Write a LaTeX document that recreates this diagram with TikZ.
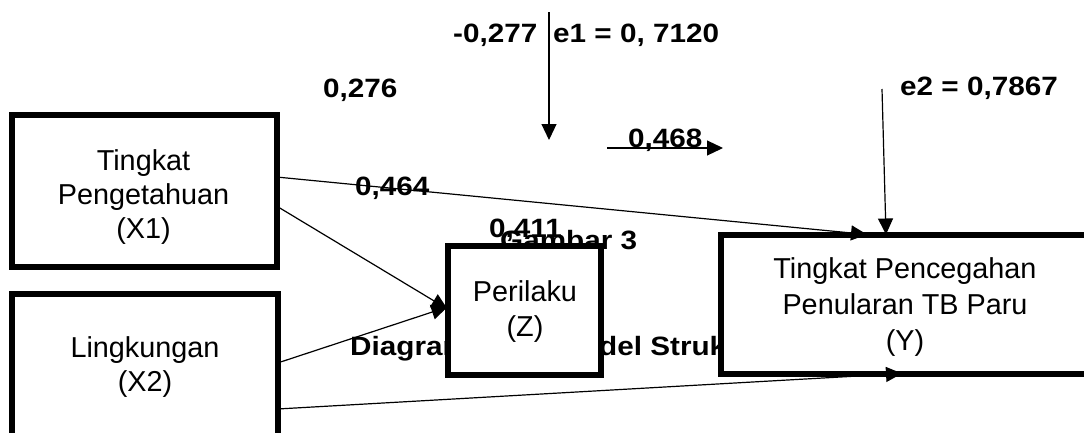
\documentclass[tikz,border=0pt]{standalone}
\usepackage{fontspec}
\setmainfont{Liberation Sans}
\newfontfamily\labfont[FakeStretch=1.12]{Liberation Sans}
\usetikzlibrary{arrows.meta}
\tikzset{
  box/.style={draw, line width=6pt, fill=white, inner sep=0pt, outer sep=0pt},
  boxtext/.style={align=center, inner sep=0pt, font=\fontsize{28.8}{34}\selectfont},
  lab/.style={inner sep=0pt, anchor=base west, font=\labfont\bfseries\fontsize{26.5}{30}\selectfont},
  conn/.style={line width=1.2pt, -{Triangle[length=16pt,width=15pt]}},
}
\begin{document}
\begin{tikzpicture}[x=1pt,y=-1pt]
\useasboundingbox (0,0) rectangle (1084,432);
% texts partly hidden behind boxes
\node[lab] (gambar) at (500,249) {Gambar 3};
\node[lab] (diag) at (350,355) {Diagram Jalur Model Struktural};
% boxes
\node[box, minimum width=265pt, minimum height=152pt] (x1) at (144,190.5) {};
\node[box, minimum width=266pt, minimum height=176pt] (x2) at (144.5,382) {};
\node[box, minimum width=153pt, minimum height=129pt] (z) at (524,310) {};
\node[box, minimum width=399pt, minimum height=139pt] (y) at (920.5,304) {};
\node[boxtext] (x1t) at (143.5,197) {Tingkat\\Pengetahuan\\(X1)};
\node[boxtext] (x2t) at (145,367.5) {Lingkungan\\(X2)};
\node[boxtext, font=\fontsize{28.8}{35}\selectfont] (zt) at (525,311.5) {Perilaku\\(Z)};
\node[boxtext, font=\fontsize{28.8}{36}\selectfont] (yt) at (905,307) {Tingkat Pencegahan\\Penularan TB Paru\\(Y)};
% free ends
\coordinate (e1s) at (549,12);
\coordinate (e1e) at (549,140);
\coordinate (e2s) at (882,89);
\coordinate (r1s) at (607,148);
\coordinate (r1e) at (723,148);
% connectors
\draw[conn] ([yshift=13.5pt]x1.east) -- ([xshift=146pt]y.north west);
\draw[conn] ([yshift=-15.5pt]x1.east) -- ([yshift=1pt]z.west);
\draw[conn] ([yshift=19pt]x2.east) -- ([yshift=3pt]z.west);
\draw[conn] ([yshift=-27pt]x2.east) -- ([xshift=181pt]y.south west);
\draw[conn] (e1s) -- (e1e);
\draw[conn] (e2s) -- ([xshift=165pt]y.north west);
\draw[conn] (r1s) -- (r1e);
% labels
\node[lab] (l277) at (453,42) {-0,277};
\node[lab] (le1) at (553,42) {e1 = 0, 7120};
\node[lab] (l276) at (323,97) {0,276};
\node[lab] (l468) at (628,147) {0,468};
\node[lab] (l464) at (355,195) {0,464};
\node[lab] (l411) at (489,237) {0,411};
\node[lab] (le2) at (900,95) {e2 = 0,7867};
\end{tikzpicture}
\end{document}
